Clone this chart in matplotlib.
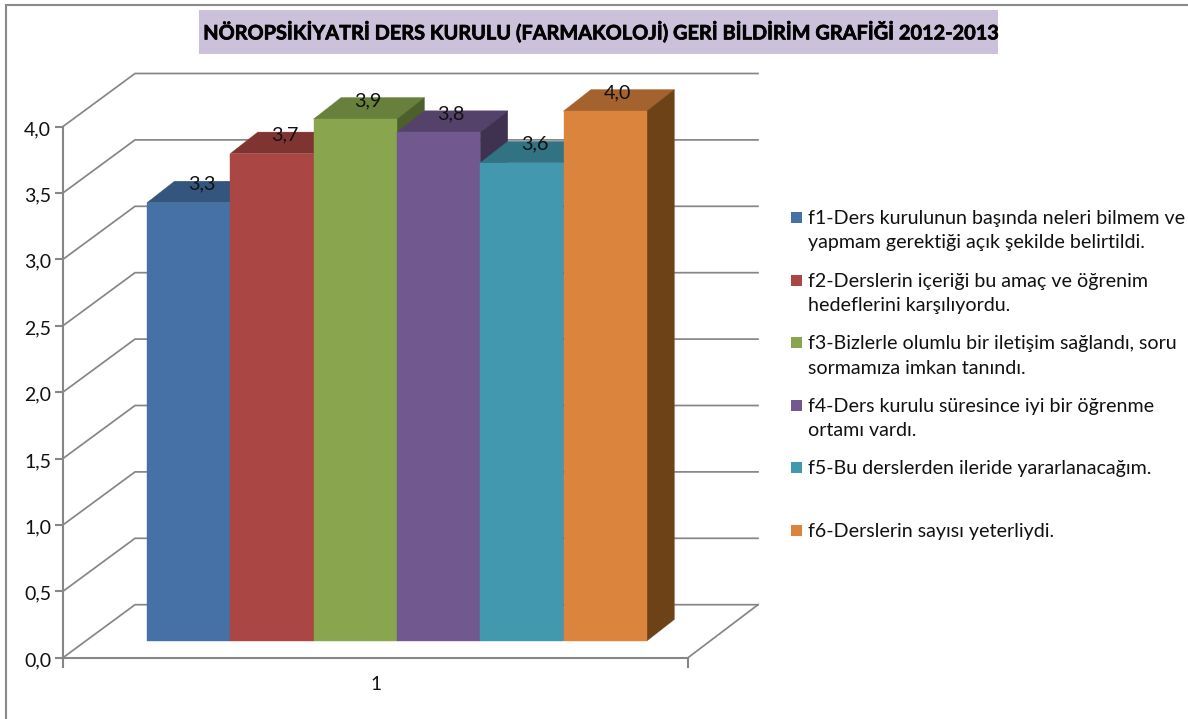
import matplotlib
matplotlib.use("Agg")
import matplotlib.pyplot as plt
import matplotlib.patheffects as pe
from matplotlib.patches import Polygon, Rectangle
from matplotlib.transforms import ScaledTranslation

plt.rcParams['font.family'] = ['Lato', 'DejaVu Sans']

W, H = 1188, 719
TITLE = "NÖROPSİKİYATRİ DERS KURULU (FARMAKOLOJİ) GERİ BİLDİRİM GRAFİĞİ 2012-2013"
series_labels = [
    "f1-Ders kurulunun başında neleri bilmem ve\nyapmam gerektiği açık şekilde belirtildi.",
    "f2-Derslerin içeriği bu amaç ve öğrenim\nhedeflerini karşılıyordu.",
    "f3-Bizlerle olumlu bir iletişim sağlandı, soru\nsormamıza imkan tanındı.",
    "f4-Ders kurulu süresince iyi bir öğrenme\nortamı vardı.",
    "f5-Bu derslerden ileride yararlanacağım.",
    "f6-Derslerin sayısı yeterliydi.",
]
values = [3.30, 3.67, 3.93, 3.83, 3.60, 3.99]
front_colors = ['#4571A6', '#AA4643', '#89A54E', '#71588F', '#4198AF', '#DB843D']
top_colors = ['#34557D', '#803432', '#67803B', '#55426B', '#317283', '#A4632E']
side_colors = ['#2B4667', '#6A2B29', '#4D602C', '#3F3250', '#285E6C', '#6E4217']
y_ticks = [0.0, 0.5, 1.0, 1.5, 2.0, 2.5, 3.0, 3.5, 4.0]
category = "1"

GRAY = '#868686'
fig = plt.figure(figsize=(W / 100, H / 100), dpi=100, facecolor='white')

# page frame and title box
bg = fig.add_axes([0, 0, 1, 1])
bg.set_xlim(0, W); bg.set_ylim(H, 0); bg.axis('off')
bg.plot([6, 6, W], [H, 5, 5], color='#8A8A8A', lw=1.5, solid_joinstyle='miter')
bg.add_patch(Rectangle((199, 10), 799, 44, fc='#CCC1DA', ec='none'))
bg.text(600, 32, TITLE, ha='center', va='center', fontsize=14.35, fontweight='bold', color='black',
        path_effects=[pe.withStroke(linewidth=0.5, foreground='black')])

# legend
for i, (lab, c) in enumerate(zip(series_labels, front_colors)):
    y = 218 + i * 62.6
    bg.add_patch(Rectangle((791, y - 6), 11, 11, fc=c, ec='none'))
    bg.text(808, y - 8, lab, ha='left', va='top', fontsize=14.1, color='#111111', linespacing=1.53)

# chart axes: box from the y axis to the floor front edge
ax = fig.add_axes([63 / W, 1 - 657.7 / H, 625 / W, (657.7 - 126.5) / H])
ax.patch.set_alpha(0)
ax.set_xlim(0, 625)
ax.set_ylim(0, 4)
for s in ('top', 'right'):
    ax.spines[s].set_visible(False)
for s in ('left', 'bottom'):
    ax.spines[s].set_color(GRAY)
    ax.spines[s].set_linewidth(1.5)
ax.set_yticks(y_ticks)
ax.set_yticklabels([f"{v:.1f}".replace('.', ',') for v in y_ticks], fontsize=14, color='#111111')
ax.tick_params(axis='y', length=6, width=1.5, color=GRAY, pad=2.5)
for lbl in ax.get_yticklabels():
    lbl.set_transform(lbl.get_transform() + ScaledTranslation(0, -1.5 / 100, fig.dpi_scale_trans))
ax.set_xticks([0, 625])
ax.set_xticklabels(['', ''])
ax.tick_params(axis='x', length=7, width=1.5, color=GRAY)
ax.set_xticks([312.5], minor=True)
ax.set_xticklabels([category], minor=True, fontsize=13.5, color='#111111')
ax.tick_params(axis='x', which='minor', length=0, pad=13.5)

# walls and floor (depth offsets in x px / y value units)
WALL_DX, WALL_DY = 70, 53 / 132.8
for v in y_ticks:
    ax.plot([0, 72, 625 + WALL_DX], [v, v + WALL_DY, v + WALL_DY],
            color=GRAY, lw=1.25, clip_on=False, zorder=1, solid_joinstyle='miter')
ax.plot([625, 625 + WALL_DX], [0, WALL_DY], color=GRAY, lw=1.25, clip_on=False, zorder=1)

# 3D bars
BAR_X0, BAR_W = 84, 83.3
BASE = 0.126
DX, DY = 27.5, 21.5 / 132.8
for i, (v, fc, tc, sc) in enumerate(zip(values, front_colors, top_colors, side_colors)):
    x0, x1 = BAR_X0 + i * BAR_W, BAR_X0 + (i + 1) * BAR_W
    y0, y1 = BASE, BASE + v
    z = 3 + i
    ax.add_patch(Polygon([(x0, y1), (x1, y1), (x1 + DX, y1 + DY), (x0 + DX, y1 + DY)],
                         fc=tc, ec=tc, lw=0.3, clip_on=False, zorder=z))
    ax.add_patch(Polygon([(x1, y0), (x1 + DX, y0 + DY), (x1 + DX, y1 + DY), (x1, y1)],
                         fc=sc, ec=sc, lw=0.3, clip_on=False, zorder=z))
    ax.add_patch(Rectangle((x0, y0), BAR_W, v, fc=fc, ec=fc, lw=0.3, clip_on=False, zorder=z))

for i, v in enumerate(values):
    xc = BAR_X0 + (i + 0.5) * BAR_W + DX / 2 - 1
    ax.text(xc, BASE + v + DY - 0.022, f"{v:.1f}".replace('.', ','), ha='center', va='center',
            fontsize=14.3, color='#111111', zorder=20, clip_on=False)

fig.savefig('out.png', dpi=100)
